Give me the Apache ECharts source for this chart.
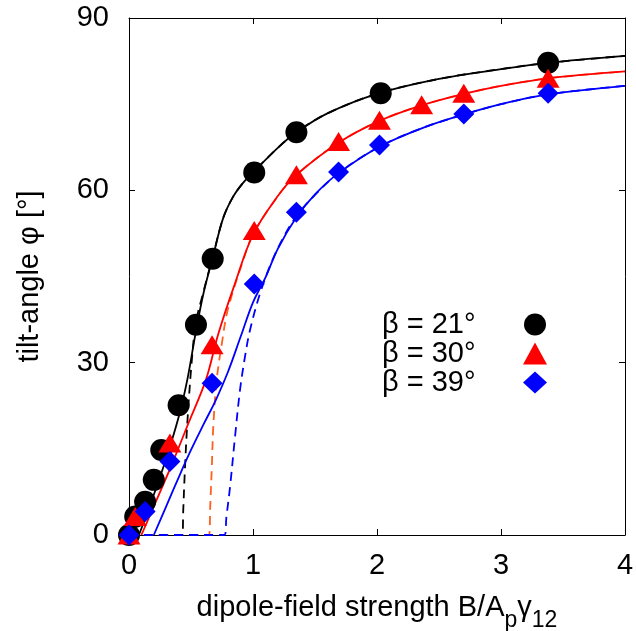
<!DOCTYPE html>
<html><head><meta charset="utf-8">
<script src="https://cdn.jsdelivr.net/npm/echarts@6/dist/echarts.min.js"></script>
<style>html,body{margin:0;padding:0;background:#fff}#c{width:636px;height:631px}</style>
</head><body><div id="c"></div>
<script>
const F = 'Liberation Sans, Arial, Helvetica, sans-serif';
const xRange = [0, 4], xStep = 1;
const yRange = [0, 90], yStep = 30;
const legendNames = ['β = 21°', 'β = 30°', 'β = 39°'];

// measured points
const pts21 = [[0,0],[0.05,3.2],[0.13,5.8],[0.2,9.6],[0.26,14.8],[0.4,22.6],[0.54,36.6],[0.675,48.1],[1.01,63.1],[1.35,70.1],[2.03,76.9],[3.38,82.2]];
const pts30 = [[0,0],[0.05,3.2],[0.33,16.0],[0.67,33.1],[1.01,53.0],[1.35,62.7],[1.69,68.5],[2.02,72.2],[2.36,74.9],[2.70,76.9],[3.38,79.5]];
const pts39 = [[0,0],[0.13,4.1],[0.33,12.8],[0.67,26.4],[1.01,43.7],[1.35,56.2],[1.69,63.2],[2.02,67.9],[2.70,73.3],[3.38,76.9]];

// solid curves
const fit21 = [[0.08,0],[0.15,4],[0.28,12],[0.4,20.5],[0.47,27],[0.54,35.5],[0.6,42],[0.675,48.3],[0.76,55.2],[0.84,58.9],[0.92,61.3],[1.0,63.1],[1.2,67.4],[1.35,70.1],[1.6,73.4],[2.0,76.8],[2.5,79.4],[3.0,81.1],[3.38,82.2],[4.0,83.4]];
const fit30 = [[0.10,0],[0.2,5],[0.34,12],[0.48,19.5],[0.62,27],[0.72,35],[0.85,43.5],[1.0,52.3],[1.2,59],[1.35,62.7],[1.69,68.3],[2.02,72.1],[2.36,74.8],[2.7,76.8],[3.0,78.2],[3.38,79.5],[4.0,80.7]];
const fit39 = [[0.2,0],[0.3,5],[0.4,10],[0.5,14.8],[0.6,19.2],[0.7,23.5],[0.8,28.5],[0.9,34.5],[1.0,40.5],[1.1,44.8],[1.2,49.8],[1.35,55.3],[1.5,59.3],[1.69,63],[2.02,67.6],[2.36,70.8],[2.7,73.2],[3.0,75],[3.38,76.7],[4.0,78.2]];

// dashed curves
const mf21 = [[0,0],[0.43,0],[0.437,4],[0.45,11],[0.47,19.4],[0.505,30],[0.54,37],[0.6,42.3],[0.675,48.4],[0.76,55.2],[0.84,58.9],[0.92,61.3],[1.0,63.1],[1.2,67.4],[1.35,70.1],[1.6,73.4],[2.0,76.8],[2.5,79.4],[3.0,81.1],[3.38,82.2],[4.0,83.4]];
const mf30 = [[0,0],[0.645,0],[0.655,5],[0.667,11.3],[0.68,19],[0.707,27],[0.75,33.5],[0.79,38.6],[0.85,43.2],[0.9,46.5],[1.0,52.3],[1.2,59],[1.35,62.7],[1.69,68.3],[2.02,72.1],[2.36,74.8],[2.7,76.8],[3.0,78.2],[3.38,79.5],[4.0,80.7]];
const mf39 = [[0,0],[0.77,0],[0.785,3],[0.815,8.4],[0.855,17.1],[0.895,25.2],[0.935,31],[0.976,35.7],[1.056,42],[1.15,47.5],[1.25,52],[1.35,55.5],[1.5,59.2],[1.69,63],[2.02,67.6],[2.36,70.8],[2.7,73.2],[3.0,75],[3.38,76.7],[4.0,78.2]];

const chart = echarts.init(document.getElementById('c'), null, {renderer:'canvas'});
const axisCommon = {
  type:'value',
  axisLine:{show:true,onZero:false,lineStyle:{color:'#000',width:1}},
  axisTick:{show:true,inside:true,length:6,lineStyle:{color:'#000',width:1}},
  splitLine:{show:false}
};
function lineSeries(data, color, dashed){
  return {type:'line', data:data, showSymbol:false, symbol:'none', smooth:0.35,
    lineStyle:{color:color, width:1.8, type: dashed ? [9,6] : 'solid'}, z:2, silent:true};
}
function scatterSeries(name, data, symbol, size, color, z){
  return {type:'scatter', name:name, data:data, symbol:symbol, symbolSize:size, clip:false,
    itemStyle:{color:color, opacity:1}, z:z, silent:true};
}
chart.setOption({
  animation:false,
  backgroundColor:'#fff',
  grid:{left:129, right:11, top:18, bottom:96, containLabel:false, outerBoundsMode:'none'},
  xAxis:[
    Object.assign({}, axisCommon, {position:'bottom', min:xRange[0], max:xRange[1], interval:xStep,
      axisLabel:{fontSize:29, fontFamily:F, color:'#000', margin:16},
      name:'{a|dipole-field strength B/A}{s|p}{a|γ}{s|12}', nameLocation:'middle', nameGap:40,
      nameTextStyle:{rich:{
        a:{fontSize:29, fontFamily:F, color:'#000', lineHeight:34},
        s:{fontSize:23, fontFamily:F, color:'#000', lineHeight:24, padding:[24,0,0,0]}
      }}}),
    Object.assign({}, axisCommon, {position:'top', min:xRange[0], max:xRange[1], interval:xStep,
      axisLabel:{show:false}})
  ],
  yAxis:[
    Object.assign({}, axisCommon, {position:'left', min:yRange[0], max:yRange[1], interval:yStep,
      axisLabel:{fontSize:29, fontFamily:F, color:'#000', margin:20, verticalAlign:'middle'},
      name:'tilt-angle φ [°]', nameLocation:'middle', nameGap:85,
      nameTextStyle:{fontSize:29, fontFamily:F, color:'#000'}}),
    Object.assign({}, axisCommon, {position:'right', min:yRange[0], max:yRange[1], interval:yStep,
      axisLabel:{show:false}})
  ],
  legend:{
    data:legendNames, orient:'vertical', left:382, top:310, align:'right', padding:0,
    itemWidth:24, itemHeight:22, itemGap:0, selectedMode:false,
    formatter: function(n){ return '{t|' + n + '}'; },
    textStyle:{fontSize:29, fontFamily:F, color:'#000', lineHeight:29,
      rich:{t:{fontSize:29, fontFamily:F, color:'#000', lineHeight:29, width:136, align:'left'}}}
  },
  series:[
    lineSeries(mf21,'#000000',true),
    lineSeries(mf30,'#ff6020',true),
    lineSeries(mf39,'#0000ff',true),
    lineSeries(fit21,'#000000',false),
    lineSeries(fit30,'#ff0000',false),
    lineSeries(fit39,'#0000ff',false),
    scatterSeries(legendNames[0], pts21, 'circle', 22, '#000000', 3),
    scatterSeries(legendNames[1], pts30, 'triangle', [23,19], '#ff0000', 4),
    scatterSeries(legendNames[2], pts39, 'diamond', [21,21], '#0000ff', 5)
  ]
});
</script></body></html>
